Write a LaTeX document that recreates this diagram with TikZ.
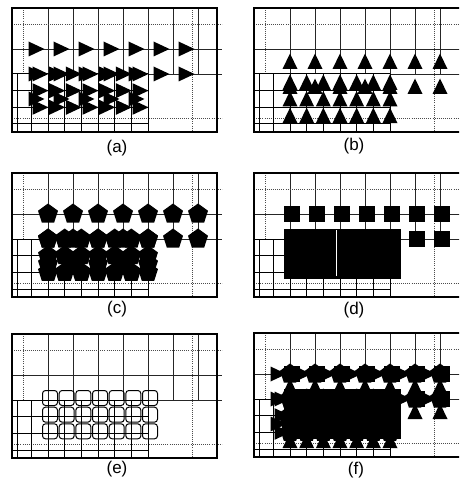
\documentclass[tikz,border=0pt]{standalone}
\usepackage{fontspec}
\setmainfont{Liberation Sans}
\tikzset{
  frameline/.style={line width=1.5pt},
  coarse/.style={line width=0.5pt, black!85},
  dotl/.style={line width=0.55pt, black!70, dash pattern=on 0.8pt off 1.3pt},
  fine/.style={line width=1pt},
  boxline/.style={line width=1pt, rounded corners=3pt},
  lab/.style={font=\fontsize{17}{19}\selectfont, inner sep=0pt}
}
\newcommand\dofR[2]{\fill (#1,#2) ++(-7.5,-7.5) -- ++(16,7.5) -- ++(-16,7.5) -- cycle;}
\newcommand\dofU[2]{\fill (#1,#2) ++(-7.5,7.5) -- ++(7.5,-15.5) -- ++(7.5,15.5) -- cycle;}
\newcommand\dofP[2]{\fill (#1,#2) ++(0,-10.5) -- ++(-9.99,7.26) -- ++(3.81,11.74) -- ++(12.36,0) -- ++(3.81,-11.74) -- cycle;}
\newcommand\dofS[2]{\fill (#1-8,#2-8) rectangle ++(16,16);}
\newcommand\dofT[2]{\fill (#1-8.5,#2-8.5) rectangle ++(17.2,17.2);}
\newcommand\dofB[2]{\draw[boxline] (#1-7.5,#2-7.5) rectangle ++(15,15);}
\newcommand\gridbase{%
  \foreach \x in {36,61,...,186} \draw[coarse] (\x,0) -- (\x,66);
  \draw[dotl] (11,0) -- (11,66);
  \draw[dotl] (0,16) -- (210,16);
  \draw[coarse] (0,41) -- (210,41);
  \draw[coarse] (136,66) -- (210,66);
  \draw[dotl] (180,0) -- (180,124);
  \draw[dotl] (0,110) -- (210,110);
  \foreach \x in {5,19.33,36,52.67,69.33,86,102.67,119.33,136} \draw[fine] (\x,66) -- (\x,124);
  \foreach \y in {66,82.67,99.33,116} \draw[fine] (0,\y) -- (136,\y);
}
\newcommand\setA{%
  \foreach \i in {0,...,6} {\dofR{24+25*\i}{41} \dofR{24+25*\i}{66}}
  \foreach \i in {0,...,4} {\dofR{24+25*\i}{91}}
  \foreach \j in {66,82.67,99.33} {\foreach \i in {0,...,6} {\dofR{28+16.667*\i}{\j}}}
}
\newcommand\setB{%
  \foreach \i in {0,...,6} {\dofU{36+25*\i}{53.5} \dofU{36+25*\i}{78.5}}
  \foreach \j in {74.33,91,107.67} {\foreach \i in {0,...,6} {\dofU{36+16.667*\i}{\j}}}
}
\newcommand\setC{%
  \foreach \i in {0,...,6} {\dofP{36+25*\i}{41} \dofP{36+25*\i}{66}}
  \foreach \i in {0,...,4} {\dofP{36+25*\i}{91}}
  \foreach \j in {66,82.67,99.33} {\foreach \i in {0,...,6} {\dofP{36+16.667*\i}{\j}}}
}
\newcommand\setD{%
  \foreach \i in {0,...,6} {\dofS{38+25*\i}{41} \dofS{38+25*\i}{66}}
  \foreach \j in {66,82.67,99.33} {\foreach \i in {0,...,6} {\dofT{38+16.667*\i}{\j-2}}}
}
\newcommand\setE{%
  \foreach \j in {66,82.67,99.33} {\foreach \i in {0,...,6} {\dofB{38+16.667*\i}{\j-2}}}
}
\begin{document}
\begin{tikzpicture}[x=1pt,y=-1pt]
\clip (0,0) rectangle (459,478);
\fill[white] (0,0) rectangle (459,478);
% (a)
\begin{scope}[shift={(12,8)}]
  \gridbase \setA
  \draw[frameline] (0,0) rectangle (205,124);
\end{scope}
% (b)
\begin{scope}[shift={(254,8)}]
  \gridbase \setB
  \draw[frameline] (0,0) rectangle (210,124);
\end{scope}
% (c)
\begin{scope}[shift={(12,173)}]
  \gridbase \setC
  \draw[frameline] (0,0) rectangle (205,124);
\end{scope}
% (d)
\begin{scope}[shift={(254,173)}]
  \gridbase \setD
  \fill[white] (81.5,57) rectangle (82.5,103);
  \draw[frameline] (0,0) rectangle (210,124);
\end{scope}
% (e)
\begin{scope}[shift={(12,334)}]
  \gridbase \setE
  \draw[frameline] (0,0) rectangle (205,124);
\end{scope}
% (f)
\begin{scope}[shift={(254,333)}]
  \gridbase \setA \setB \setC \setD
  \draw[frameline] (0,0) rectangle (210,124);
\end{scope}
\node[lab] (la) at (117,148) {(a)};
\node[lab] (lb) at (354,146) {(b)};
\node[lab] (lc) at (117,309) {(c)};
\node[lab] (ld) at (354,310) {(d)};
\node[lab] (le) at (117,469) {(e)};
\node[lab] (lf) at (356,470) {(f)};
\end{tikzpicture}
\end{document}
